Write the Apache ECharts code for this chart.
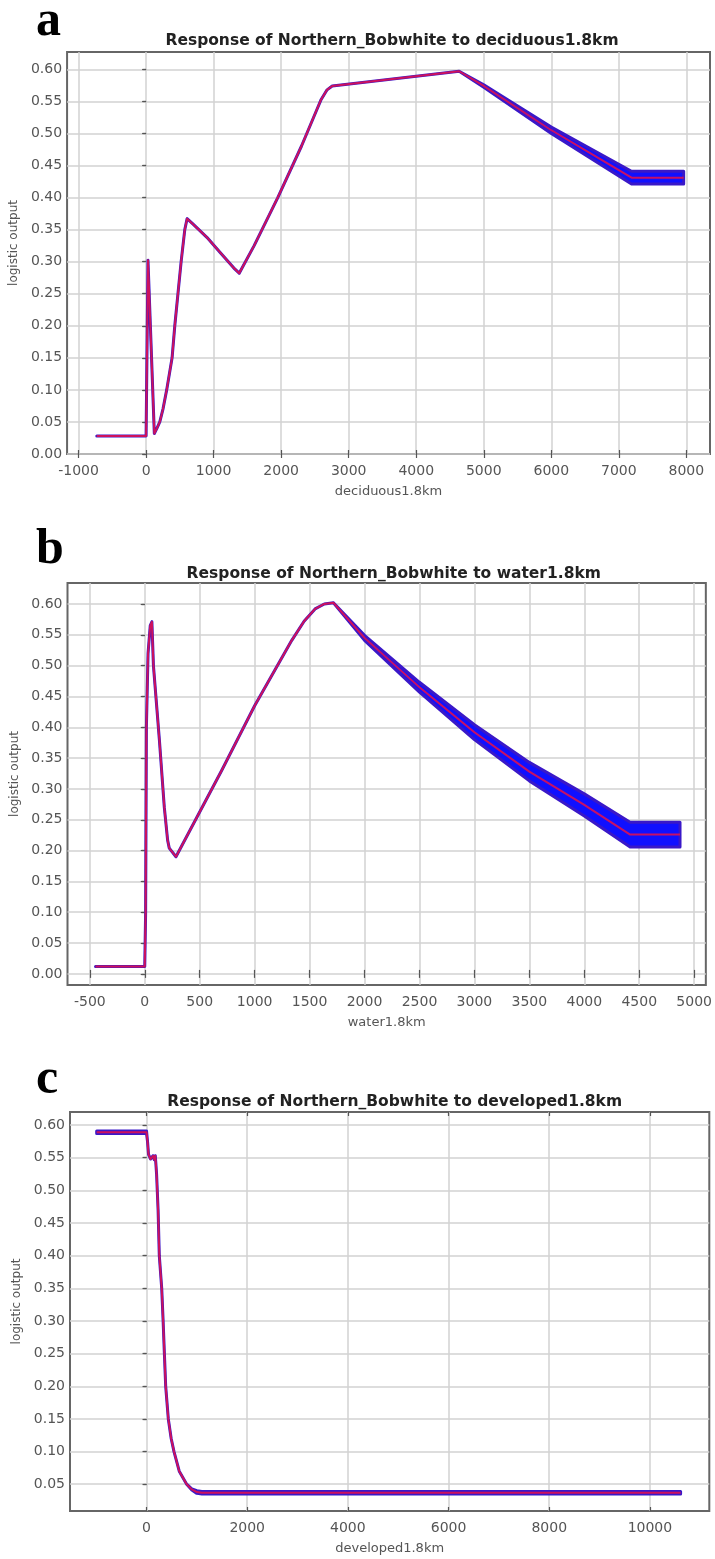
<!DOCTYPE html>
<html><head><meta charset="utf-8">
<script src="https://cdn.jsdelivr.net/npm/echarts@6/dist/echarts.min.js"></script>
<style>html,body{margin:0;padding:0;background:#fff}#c{width:715px;height:1559px}</style>
</head><body><div id="c"></div>
<script>
// ---------- Panel a: deciduous1.8km ----------
const xA      = [-730, 0, 28, 122, 160, 203, 250, 305, 385, 425, 472, 519, 573, 607, 700, 900, 1100, 1300, 1379, 1600, 1950, 2300, 2520, 2588, 2680, 2756, 4636, 5000, 6000, 7188, 7960];
const meanA   = [0.028, 0.028, 0.302, 0.032, 0.040, 0.050, 0.070, 0.100, 0.150, 0.200, 0.250, 0.300, 0.350, 0.367, 0.358, 0.338, 0.314, 0.290, 0.282, 0.325, 0.400, 0.480, 0.535, 0.552, 0.568, 0.574, 0.597, 0.574, 0.505, 0.431, 0.431];
const spreadA = [0, 0, 0, 0, 0, 0, 0, 0, 0, 0, 0, 0, 0, 0, 0, 0, 0, 0, 0, 0, 0, 0, 0, 0, 0, 0, 0, 0.002, 0.005, 0.010, 0.010];
const xTicksA = [-1000, 0, 1000, 2000, 3000, 4000, 5000, 6000, 7000, 8000];
const yTicksA = [0.00, 0.05, 0.10, 0.15, 0.20, 0.25, 0.30, 0.35, 0.40, 0.45, 0.50, 0.55, 0.60];

// ---------- Panel b: water1.8km ----------
const xB      = [-448, 0, 8, 15, 30, 50, 65, 79, 133, 178, 208, 223, 284, 700, 1000, 1338, 1450, 1550, 1634, 1717, 2000, 2500, 3000, 3500, 4000, 4417, 4871];
const meanB   = [0.012, 0.012, 0.100, 0.400, 0.520, 0.565, 0.571, 0.500, 0.380, 0.270, 0.217, 0.204, 0.190, 0.330, 0.435, 0.541, 0.572, 0.592, 0.600, 0.602, 0.545, 0.465, 0.392, 0.328, 0.274, 0.226, 0.226];
const spreadB = [0, 0, 0, 0, 0, 0, 0, 0, 0, 0, 0, 0, 0, 0, 0, 0, 0, 0, 0, 0, 0.004, 0.008, 0.012, 0.015, 0.018, 0.020, 0.020];
const xTicksB = [-500, 0, 500, 1000, 1500, 2000, 2500, 3000, 3500, 4000, 4500, 5000];
const yTicksB = [0.00, 0.05, 0.10, 0.15, 0.20, 0.25, 0.30, 0.35, 0.40, 0.45, 0.50, 0.55, 0.60];

// ---------- Panel c: developed1.8km ----------
const xC      = [-990, 0, 20, 40, 80, 130, 155, 175, 200, 230, 254, 302, 330, 355, 381, 433, 490, 546, 650, 798, 900, 1000, 1100, 10610];
const meanC   = [0.589, 0.589, 0.575, 0.555, 0.548, 0.553, 0.547, 0.553, 0.525, 0.470, 0.400, 0.350, 0.300, 0.250, 0.200, 0.150, 0.120, 0.100, 0.070, 0.050, 0.042, 0.038, 0.037, 0.037];
const spreadC = [0.002, 0.002, 0, 0, 0, 0, 0, 0, 0, 0, 0, 0, 0, 0, 0, 0, 0, 0, 0, 0, 0.001, 0.002, 0.002, 0.002];
const xTicksC = [0, 2000, 4000, 6000, 8000, 10000];
const yTicksC = [0.05, 0.10, 0.15, 0.20, 0.25, 0.30, 0.35, 0.40, 0.45, 0.50, 0.55, 0.60];

const panels = [
  {letter:'a', title:'Response of Northern_Bobwhite to deciduous1.8km', xname:'deciduous1.8km',
   xs:xA, mean:meanA, spread:spreadA, xt:xTicksA, yt:yTicksA,
   grid:{left:64, top:52, width:646, height:402}, xr:[-1170, 8350], yr:[0, 0.627],
   titleY:38, letterY:22},
  {letter:'b', title:'Response of Northern_Bobwhite to water1.8km', xname:'water1.8km',
   xs:xB, mean:meanB, spread:spreadB, xt:xTicksB, yt:yTicksB,
   grid:{left:67.5, top:583, width:642.5, height:402}, xr:[-703, 5106], yr:[-0.018, 0.634],
   titleY:571, letterY:550},
  {letter:'c', title:'Response of Northern_Bobwhite to developed1.8km', xname:'developed1.8km',
   xs:xC, mean:meanC, spread:spreadC, xt:xTicksC, yt:yTicksC,
   grid:{left:70, top:1112, width:639.3, height:399}, xr:[-1520, 11180], yr:[0.009, 0.620],
   titleY:1099, letterY:1080}
];

const FONT = 'DejaVu Sans';
const option = {animation:false, backgroundColor:'#fff', grid:[], xAxis:[], yAxis:[], series:[], title:[], graphic:[]};

panels.forEach((P, i) => {
  option.grid.push(Object.assign({show:true, borderColor:'#666', borderWidth:2, backgroundColor:'#fff'}, P.grid));
  const cx = P.grid.left + P.grid.width / 2;
  option.title.push({text:P.title, left:cx, top:P.titleY - 10, textAlign:'center',
    textStyle:{fontFamily:FONT, fontWeight:'bold', fontSize:15.5, color:'#222'}});
  option.graphic.push({type:'text', x:36, y:P.letterY,
    style:{text:P.letter, font:'bold 50px "Liberation Serif"', fill:'#000', verticalAlign:'middle'}});
  // bottom x axis
  option.xAxis.push({type:'value', gridIndex:i, position:'bottom', min:P.xr[0], max:P.xr[1],
    name:P.xname, nameLocation:'middle', nameGap:31,
    nameTextStyle:{fontFamily:FONT, fontSize:13, color:'#555'},
    axisLine:{show:false},
    axisTick:{show:true, inside:true, length:4, customValues:P.xt, lineStyle:{color:'#555', width:1.2}},
    axisLabel:{customValues:P.xt, margin:10, fontFamily:FONT, fontSize:14, color:'#555', formatter:v=>String(v)},
    splitLine:{show:true, lineStyle:{color:'#d2d2d2', width:1.5}}});
  // top x axis (ticks only)
  option.xAxis.push({type:'value', gridIndex:i, position:'top', min:P.xr[0], max:P.xr[1],
    axisLine:{show:false}, axisLabel:{show:false}, splitLine:{show:false},
    axisTick:{show:true, inside:true, length:4, customValues:P.xt, lineStyle:{color:'#555', width:1.2}}});
  // left y axis
  option.yAxis.push({type:'value', gridIndex:i, position:'left', min:P.yr[0], max:P.yr[1],
    name:'logistic output', nameLocation:'middle', nameGap:38,
    nameTextStyle:{fontFamily:FONT, fontSize:12, color:'#555', padding:[0,0,0,20]},
    axisLine:{show:false},
    axisTick:{show:true, inside:false, length:3, customValues:P.yt, lineStyle:{color:'#555', width:1.2}},
    axisLabel:{customValues:P.yt, margin:5, fontFamily:FONT, fontSize:14, color:'#555', formatter:v=>v.toFixed(2)},
    splitLine:{show:true, lineStyle:{color:'#d2d2d2', width:1.5}}});
  // right y axis (ticks only)
  option.yAxis.push({type:'value', gridIndex:i, position:'right', min:P.yr[0], max:P.yr[1],
    axisLine:{show:false}, axisLabel:{show:false}, splitLine:{show:false},
    axisTick:{show:true, inside:true, length:4, customValues:P.yt, lineStyle:{color:'#555', width:1.2}}});

  const upper = P.xs.map((x, k) => [x, P.mean[k] + P.spread[k]]);
  const lower = P.xs.map((x, k) => [x, P.mean[k] - P.spread[k]]);
  // blue band (mean +/- one standard deviation)
  option.series.push({type:'custom', xAxisIndex:2*i, yAxisIndex:2*i, data:upper, encode:{x:0, y:1},
    z:2, silent:true,
    renderItem:(params, api) => {
      if (params.dataIndex !== 0) return;
      const pts = upper.map(p => api.coord(p)).concat(lower.slice().reverse().map(p => api.coord(p)));
      return {type:'polygon', shape:{points:pts}, style:{fill:'#1010ff', stroke:'#3a18c8', lineWidth:3, lineJoin:'round'}};
    }});
  // red mean curve
  option.series.push({type:'line', xAxisIndex:2*i, yAxisIndex:2*i, z:3, symbol:'none', silent:true,
    data:P.xs.map((x, k) => [x, P.mean[k]]),
    lineStyle:{color:'#e8104a', width:2, opacity:0.85, join:'round'}});
});

const chart = echarts.init(document.getElementById('c'), null, {renderer:'canvas'});
chart.setOption(option);
</script></body></html>
